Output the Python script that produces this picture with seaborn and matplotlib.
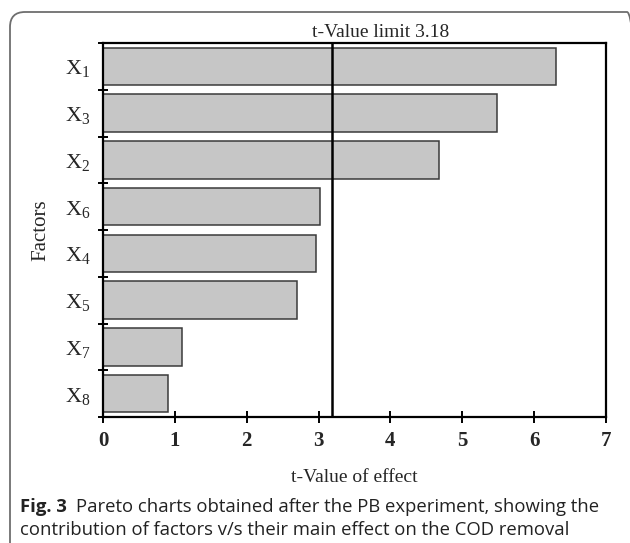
import matplotlib
matplotlib.use("Agg")
import matplotlib.pyplot as plt
import seaborn as sns
import pandas as pd
from matplotlib.patches import FancyBboxPatch
import matplotlib.transforms as mtransforms

factors = ["X1", "X3", "X2", "X6", "X4", "X5", "X7", "X8"]
tick_labels = [r"X$_1$", r"X$_3$", r"X$_2$", r"X$_6$", r"X$_4$", r"X$_5$", r"X$_7$", r"X$_8$"]
t_values = [6.30, 5.49, 4.67, 3.02, 2.97, 2.70, 1.10, 0.90]
t_limit = 3.18
x_ticks = [0, 1, 2, 3, 4, 5, 6, 7]

sns.set_theme(style="white")
plt.rcParams["font.family"] = ["Liberation Serif", "DejaVu Serif"]
plt.rcParams["mathtext.fontset"] = "custom"
plt.rcParams["mathtext.rm"] = "Liberation Serif"
plt.rcParams["mathtext.it"] = "Liberation Serif:italic"
plt.rcParams["mathtext.default"] = "regular"

df = pd.DataFrame({"factor": factors, "t": t_values})

W, H = 630, 543
fig = plt.figure(figsize=(W / 100, H / 100), dpi=100)
ax = fig.add_axes([103 / W, 1 - 417 / H, (606 - 103) / W, (417 - 43) / H])

sns.barplot(data=df, x="t", y="factor", orient="h", color="#c6c6c6",
            saturation=1, edgecolor="#3a3a3a", linewidth=1.1, width=0.8, ax=ax)

ax.axvline(t_limit, color="black", lw=1.8, zorder=5)
ax.set_xlim(0, 7)
ax.set_ylim(7.5, -0.5)
ax.set_xticks(x_ticks)
ax.set_xticklabels([str(v) for v in x_ticks], fontweight="bold", fontsize=15)
ax.set_yticks(range(len(factors)))
ax.set_yticklabels(tick_labels, fontsize=16)
ax.set_yticks([i - 0.5 for i in range(len(factors) + 1)], minor=True)
ax.tick_params(axis="y", which="major", length=0, pad=9)
ax.tick_params(axis="y", which="minor", length=7, width=1.4, direction="inout", color="black", left=True)
ax.tick_params(axis="x", which="major", length=8, width=1.4, direction="inout", color="black", bottom=True, pad=6)

for s in ax.spines.values():
    s.set_color("black")
    s.set_linewidth(1.6)

ax.set_xlabel("t-Value of effect", fontsize=14, labelpad=13)
ax.set_ylabel("Factors", fontsize=15, labelpad=10)

trans = mtransforms.blended_transform_factory(ax.transData, ax.transAxes)
ax.text(3.86, 1.005, "t-Value limit " + str(t_limit), transform=trans,
        ha="center", va="bottom", fontsize=14)

# outer rounded frame
frame = FancyBboxPatch((0.10, -0.15), 6.32, 5.31 + 0.15,
                       boxstyle="round,pad=0,rounding_size=0.15",
                       transform=fig.dpi_scale_trans, facecolor="none",
                       edgecolor="#6e6e6e", linewidth=1.3, zorder=-1)
fig.patches.append(frame)

# caption
cap_font = ["Open Sans", "DejaVu Sans"]
fs = 13.3
t1 = fig.text(20 / W, 1 - 512 / H, "Fig. 3", fontsize=fs, fontweight="bold",
              family=cap_font, ha="left", va="baseline", color="#222222")
fig.canvas.draw()
bb = t1.get_window_extent(fig.canvas.get_renderer())
fig.text(bb.x1 / W + 9 / W, 1 - 512 / H,
         "Pareto charts obtained after the PB experiment, showing the",
         fontsize=fs, family=cap_font, ha="left", va="baseline", color="#222222")
fig.text(20 / W, 1 - 535 / H,
         "contribution of factors v/s their main effect on the COD removal",
         fontsize=fs, family=cap_font, ha="left", va="baseline", color="#222222")

fig.savefig("out.png", dpi=100)
